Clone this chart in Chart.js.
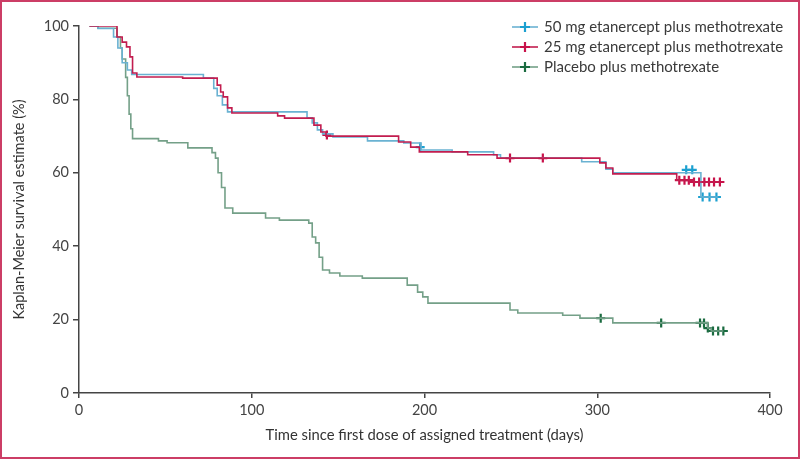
<!DOCTYPE html>
<html>
<head>
<meta charset="utf-8">
<script src="https://cdn.jsdelivr.net/npm/chart.js@4"></script>
<style>
  body { margin: 0; background: #fff; }
  #wrap { position: relative; width: 800px; height: 459px; }
  #frame { position: absolute; left: 0; top: 0; width: 800px; height: 459px; box-sizing: border-box;
           border: 2px solid #cc3d66; pointer-events: none; }
</style>
</head>
<body>
<div id="wrap">
  <canvas id="Grafico" width="800" height="459"></canvas>
  <div id="frame"></div>
</div>
<script>
//Etiquetas de la leyenda
const seriesNames = ['50 mg etanercept plus methotrexate', '25 mg etanercept plus methotrexate', 'Placebo plus methotrexate'];

//Ticks de los ejes
const xTicks = [0, 100, 200, 300, 400];
const yTicks = [0, 20, 40, 60, 80, 100];

//50 mg: dias de evento y supervivencia (%)
const days50 = [6, 11, 20, 22.5, 25, 28, 30.5, 72, 78, 80, 83, 86, 132, 135, 138, 141, 147, 167, 188, 198, 216, 240, 244, 291, 305, 309, 360, 370];
const surv50 = [100, 99.3, 97, 94, 90, 88, 86.8, 85.8, 83, 81, 78.5, 76.6, 75, 73.6, 71.7, 70.6, 69.8, 68.7, 68.1, 66.2, 65.7, 64.9, 64, 63, 61, 60, 53.4, 53.4];
const censDays50 = [197.5, 351.5, 355, 361, 365, 369];
const censSurv50 = [67, 60.8, 60.8, 53.4, 53.4, 53.4];

//25 mg
const days25 = [6, 22, 25, 27.5, 29.5, 31, 33.5, 60, 80, 82, 83.5, 86, 88.5, 115, 119, 136, 140, 143, 185, 192, 197, 225, 242, 301.5, 305, 309, 346, 356, 371];
const surv25 = [100, 97, 95.6, 94.3, 91.6, 87.2, 86.1, 85.8, 83.9, 82, 80.7, 77.7, 76.3, 75.5, 74.9, 73, 71.1, 70, 68.4, 67, 65.7, 64.9, 64, 62.7, 61.3, 59.7, 58, 57.5, 57.5];
const censDays25 = [143.5, 249.5, 268.5, 347.5, 350.5, 353, 356, 359, 362, 364.7, 367.6, 371];
const censSurv25 = [70.3, 64, 64, 58, 58, 58, 57.5, 57.5, 57.5, 57.5, 57.5, 57.5];

//Placebo
const daysPl = [6, 11, 22, 24, 25, 27, 28, 29, 30, 31, 46, 51, 63, 77, 79, 80.5, 82.5, 84.5, 89, 108, 116, 133, 135, 137, 139, 141, 145, 151, 164, 190, 196, 199, 202, 249.5, 254, 280, 290, 309, 364, 366, 373];
const survPl = [100, 99.4, 97, 94, 91, 86, 81, 76, 72, 69.3, 68.7, 68.2, 66.8, 65.5, 64, 60, 56, 50.4, 49, 47.7, 47.1, 46.3, 42.5, 40.9, 37, 33.5, 32.7, 31.9, 31.3, 29.4, 27.5, 26.2, 24.5, 22.6, 21.8, 21.2, 20.4, 19.1, 17.7, 16.9, 16.9];
const censDaysPl = [302, 337, 359.5, 361.8, 364, 367, 370, 373];
const censSurvPl = [20.4, 19.1, 19.1, 19.1, 17.7, 16.9, 16.9, 16.9];

//Colores
const lineColors = ['#6ab2d2', '#c21d4f', '#74a088'];
const markColors = ['#1ca0d0', '#c8124a', '#1a6b40'];

const FONT = 'Lato, "Open Sans", sans-serif';

function pares(xs, ys) {
  return xs.map((x, i) => ({ x: x, y: ys[i] }));
}

function curva(xs, ys, i) {
  return {
    label: seriesNames[i],
    data: pares(xs, ys),
    borderColor: lineColors[i],
    borderWidth: 1.6,
    stepped: true,
    pointRadius: 0,
    fill: false
  };
}

function censuras(xs, ys, i) {
  return {
    label: seriesNames[i] + ' censored',
    data: pares(xs, ys),
    showLine: false,
    pointStyle: 'cross',
    pointRadius: 4.5,
    pointBorderWidth: 2.2,
    pointBorderColor: markColors[i],
    pointBackgroundColor: markColors[i],
    borderColor: markColors[i]
  };
}

//Leyenda dibujada a mano (vertical, arriba a la derecha)
const leyenda = {
  id: 'leyenda',
  afterDraw(chart) {
    const ctx = chart.ctx;
    const rows = [27, 47, 67];
    ctx.save();
    ctx.font = '15px ' + FONT;
    ctx.textBaseline = 'middle';
    seriesNames.forEach((name, i) => {
      const y = rows[i];
      ctx.strokeStyle = lineColors[i];
      ctx.lineWidth = 1.6;
      ctx.beginPath();
      ctx.moveTo(512, y);
      ctx.lineTo(538, y);
      ctx.stroke();
      ctx.strokeStyle = markColors[i];
      ctx.lineWidth = 2.2;
      ctx.beginPath();
      ctx.moveTo(520, y); ctx.lineTo(530, y);
      ctx.moveTo(525, y - 5); ctx.lineTo(525, y + 5);
      ctx.stroke();
      ctx.fillStyle = '#3a3a3a';
      ctx.fillText(name, 544, y);
    });
    ctx.restore();
  }
};

const contexto = document.getElementById('Grafico').getContext('2d');
const Grafico = new Chart(contexto, {
  type: 'line',
  data: {
    datasets: [
      curva(days25, surv25, 1),
      curva(days50, surv50, 0),
      curva(daysPl, survPl, 2),
      censuras(censDays25, censSurv25, 1),
      censuras(censDays50, censSurv50, 0),
      censuras(censDaysPl, censSurvPl, 2)
    ]
  },
  options: {
    responsive: false,
    animation: false,
    events: [],
    layout: { padding: { top: 26, right: 30, left: 0, bottom: 0 } },
    plugins: {
      legend: { display: false },
      tooltip: { enabled: false }
    },
    scales: {
      x: {
        type: 'linear',
        min: 0,
        max: 400,
        afterBuildTicks: (s) => { s.ticks = xTicks.map(v => ({ value: v })); },
        afterFit: (s) => { s.height = 66; },
        border: { display: true, color: '#444', width: 1.5 },
        grid: { drawOnChartArea: false, drawTicks: true, tickLength: 5, color: '#444', lineWidth: 1.5 },
        ticks: { color: '#444', padding: 4, font: { family: FONT, size: 14.5 }, maxRotation: 0 },
        title: {
          display: true,
          text: 'Time since first dose of assigned treatment (days)',
          color: '#333',
          font: { family: FONT, size: 14.8 },
          padding: { top: 0, bottom: 15 }
        }
      },
      y: {
        min: 0,
        max: 100,
        afterBuildTicks: (s) => { s.ticks = yTicks.map(v => ({ value: v })); },
        afterFit: (s) => { s.width = 79; },
        border: { display: true, color: '#444', width: 1.5 },
        grid: { drawOnChartArea: false, drawTicks: true, tickLength: 6, color: '#444', lineWidth: 1.5 },
        ticks: { color: '#444', padding: 4, font: { family: FONT, size: 14.5 } },
        title: {
          display: true,
          text: 'Kaplan-Meier survival estimate (%)',
          color: '#333',
          font: { family: FONT, size: 14.5 },
          padding: { top: 11, bottom: 0 }
        }
      }
    }
  },
  plugins: [leyenda]
});
</script>
</body>
</html>
